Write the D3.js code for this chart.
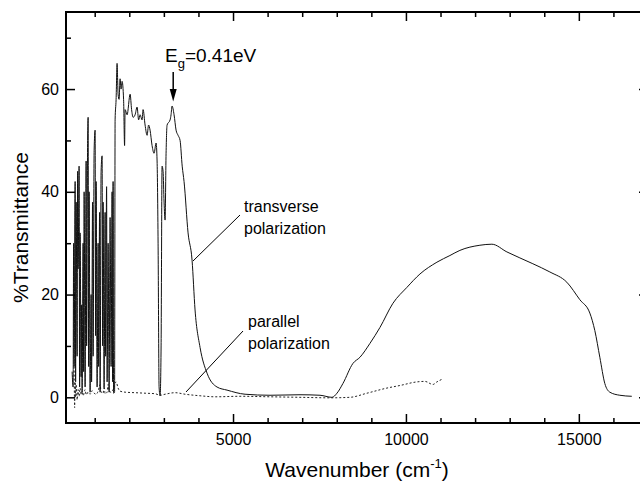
<!DOCTYPE html>
<html>
<head>
<meta charset="utf-8">
<script src="https://cdn.jsdelivr.net/npm/d3@7"></script>
<style>
  body { margin: 0; background: #fff; }
  svg { display: block; font-family: "Liberation Sans", Arial, sans-serif; }
</style>
</head>
<body>
<div id="chart"></div>
<script>
// transverse polarization (solid line), wavenumber in cm-1 / % transmittance
const transWavenumber = [347, 376, 390, 405, 434, 448, 463, 492, 506, 521, 549, 564, 578, 607, 622, 636, 665, 680, 694, 723,
    752, 766, 795, 810, 824, 838, 867, 896, 910, 939, 954, 983, 1012, 1026, 1041, 1070, 1099, 1113, 1142, 1156,
    1185, 1214, 1228, 1243, 1272, 1301, 1315, 1344, 1359, 1388, 1417, 1445, 1474, 1503, 1518, 1532, 1546, 1575, 1590, 1619,
    1647, 1676, 1705, 1734, 1763, 1792, 1835, 1864, 1879, 1937, 2024, 2067, 2110, 2168, 2226, 2270, 2313, 2370, 2399, 2457,
    2515, 2558, 2601, 2659, 2717, 2775, 2804, 2833, 2862, 2891, 2920, 2948, 2977, 3006, 3035, 3064, 3093, 3180, 3208, 3237,
    3295, 3353, 3411, 3469, 3530, 3584, 3700, 3815, 3902, 4047, 4249, 4538, 4827, 5348, 6070, 6937, 7515, 7861, 8006, 8179,
    8468, 8671, 8960, 9249, 9624, 10029, 10405, 10896, 11272, 11561, 12139, 12485, 12919, 13670, 14162, 14653, 15029, 15318, 15462, 15607,
    15751, 15896, 16185, 16531];
const transValues = [5, 2, 30, 6, 42, 3, 38, 8, 44, 25, 45, 2, 32, 4, 18, 1, 30, 5, 40, 2,
    46, 10, 50, 54.5, 6, 40, 1, 20, 3, 38, 8, 48, 52, 12, 42, 2, 30, 6, 36, 1,
    44, 47, 10, 38, 2, 36, 8, 41, 3, 30, 1, 35, 6, 40, 3, 42, 0.8, 1, 54, 58,
    65, 59, 58, 62, 60, 61.5, 58, 49, 56, 55, 59, 56, 54.5, 55, 56.5, 54, 55, 54, 56, 53,
    51, 53, 52, 49, 47.5, 49.5, 46, 30, 2, 0.3, 10, 45, 44, 38, 34.5, 47.5, 53, 54, 55, 56.7,
    55, 52, 51, 50, 45, 42, 32, 26.7, 17, 9.7, 4.7, 2, 1.4, 0.6, 0.4, 0.5, 0.4, 0, 0.8, 2.7,
    6.6, 7.8, 10.5, 13.6, 18.3, 21.4, 24, 26.3, 27.6, 28.6, 29.6, 29.8, 28.3, 26, 24.4, 22.4, 19, 16.4, 13, 7.8,
    2.7, 1, 0.4, 0.2];

// parallel polarization (dotted line)
const parWavenumber = [405, 420, 434, 448, 463, 492, 521, 549, 578, 607, 636, 665, 723, 752, 810, 867, 925, 983, 1041, 1099,
    1156, 1185, 1243, 1272, 1301, 1359, 1388, 1417, 1474, 1532, 1590, 1619, 1676, 1734, 1879, 2168, 2457, 2746, 2891, 3035,
    3324, 3613, 4047, 4480, 5203, 6070, 6937, 7804, 8382, 8873, 9451, 9827, 10318, 10549, 10780, 10896, 11040];
const parValues = [6, -2, 3, 0, 2.5, -0.5, 1.5, 0.2, 1.8, 0.5, 1.2, 0.3, 1.5, 0.5, 1.0, 0.6, 1.3, 0.8, 0.6, 1.2,
    2.5, 1.0, 0.8, 2.2, 0.7, 1.0, 2.5, 1.2, 1.0, 1.5, 2.8, 3.0, 1.8, 1.2, 1.0, 0.9, 0.8, 0.7, 0.4, 0.6,
    0.9, 0.6, 0.3, 0.1, 0.2, 0.1, 0, -0.1, 0, 0.8, 1.8, 2.3, 3.0, 3.1, 2.5, 3.0, 3.5];

const xMajorTicks = [5000, 10000, 15000];
const xMinorTicks = [1000, 2000, 3000, 4000, 6000, 7000, 8000, 9000, 11000, 12000, 13000, 14000, 16000];
const yMajorTicks = [0, 20, 40, 60];
const yMinorTicks = [10, 30, 50, 70];

const width = 640;
const height = 489;
const margin = { left: 66, top: 12, right: -8, bottom: 66 };

const svg = d3.select("#chart")
    .append("svg")
    .attr("width", width)
    .attr("height", height);

const x = d3.scaleLinear()
    .domain([170, 17000])
    .range([margin.left, width - margin.right]);

const y = d3.scaleLinear()
    .domain([-5, 75])
    .range([height - margin.bottom, margin.top]);

const plotW = x.range()[1] - x.range()[0];
const plotH = y.range()[0] - y.range()[1];

svg.append("defs").append("clipPath")
    .attr("id", "plot-clip")
    .append("rect")
    .attr("x", margin.left)
    .attr("y", margin.top)
    .attr("width", plotW)
    .attr("height", plotH);

const line = d3.line()
    .x(d => x(d[0]))
    .y(d => y(d[1]))
    .curve(d3.curveMonotoneX);

const curves = svg.append("g").attr("clip-path", "url(#plot-clip)");

curves.append("path")
    .datum(d3.zip(parWavenumber, parValues))
    .attr("d", line)
    .attr("fill", "none")
    .attr("stroke", "#222")
    .attr("stroke-width", 1)
    .attr("stroke-dasharray", "2,2");

curves.append("path")
    .datum(d3.zip(transWavenumber, transValues))
    .attr("d", line)
    .attr("fill", "none")
    .attr("stroke", "#111")
    .attr("stroke-width", 1);

// axes, ticks drawn inward on all four sides
const addAxis = (axis, transform, ticks, size, labels) => {
    const g = svg.append("g")
        .attr("transform", transform)
        .call(axis.tickValues(ticks).tickSizeInner(size).tickSizeOuter(0).tickPadding(labels ? 14 : 0)
            .tickFormat(labels ? d3.format("d") : ""));
    g.select(".domain").remove();
    g.selectAll(".tick line").attr("stroke", "#000").attr("stroke-width", 1.5);
    g.selectAll(".tick text")
        .attr("font-size", 16)
        .attr("fill", "#000")
        .attr("font-family", "'Liberation Sans', Arial, sans-serif");
    return g;
};

const bottomY = y.range()[0];
const leftX = x.range()[0];
addAxis(d3.axisBottom(x), `translate(0,${bottomY})`, xMinorTicks, -5, false);
addAxis(d3.axisBottom(x), `translate(0,${bottomY})`, xMajorTicks, -9, true)
    .selectAll(".tick text").attr("dy", "0.71em").attr("y", 11);
addAxis(d3.axisTop(x), `translate(0,${margin.top})`, xMinorTicks, -5, false);
addAxis(d3.axisTop(x), `translate(0,${margin.top})`, xMajorTicks, -9, false);
addAxis(d3.axisLeft(y), `translate(${leftX},0)`, yMinorTicks, -5, false);
addAxis(d3.axisLeft(y), `translate(${leftX},0)`, yMajorTicks, -9, true)
    .selectAll(".tick text").attr("x", -7);
addAxis(d3.axisRight(y), `translate(${x.range()[1]},0)`, yMinorTicks, -5, false);
addAxis(d3.axisRight(y), `translate(${x.range()[1]},0)`, yMajorTicks, -9, false);

svg.append("rect")
    .attr("x", margin.left)
    .attr("y", margin.top)
    .attr("width", plotW)
    .attr("height", plotH)
    .attr("fill", "none")
    .attr("stroke", "#000")
    .attr("stroke-width", 2);

// axis titles
svg.append("text")
    .attr("x", 357)
    .attr("y", 477)
    .attr("text-anchor", "middle")
    .attr("font-size", 21)
    .attr("fill", "#000")
    .html('Wavenumber (cm<tspan font-size="13" dy="-9">-1</tspan><tspan dy="9">)</tspan>');

svg.append("text")
    .attr("transform", `translate(28,${(y.range()[0] + y.range()[1]) / 2 + 10}) rotate(-90)`)
    .attr("text-anchor", "middle")
    .attr("font-size", 21)
    .attr("fill", "#000")
    .text("%Transmittance");

// band gap annotation
const gapX = x(3270);
svg.append("text")
    .attr("x", 165)
    .attr("y", 62)
    .attr("font-size", 19)
    .attr("fill", "#000")
    .html('E<tspan font-size="13" dy="6">g</tspan><tspan dy="-6">=0.41eV</tspan>');

svg.append("line")
    .attr("x1", gapX).attr("x2", gapX)
    .attr("y1", 72).attr("y2", 92)
    .attr("stroke", "#000")
    .attr("stroke-width", 1.5);

svg.append("path")
    .attr("d", `M${gapX - 3.5},89 L${gapX + 3.5},89 L${gapX},${y(57.6)} Z`)
    .attr("fill", "#000");

// curve labels
const labels = [
    { lines: ["transverse", "polarization"], tx: 244, ty: 212, from: [240, 215], to: [193, 261] },
    { lines: ["parallel", "polarization"], tx: 248, ty: 327, from: [243, 331], to: [186, 392] }
];

labels.forEach(l => {
    svg.append("line")
        .attr("x1", l.from[0]).attr("y1", l.from[1])
        .attr("x2", l.to[0]).attr("y2", l.to[1])
        .attr("stroke", "#000")
        .attr("stroke-width", 1);
    l.lines.forEach((t, i) => {
        svg.append("text")
            .attr("x", l.tx)
            .attr("y", l.ty + i * 22)
            .attr("font-size", 16)
            .attr("fill", "#000")
            .text(t);
    });
});
</script>
</body>
</html>
